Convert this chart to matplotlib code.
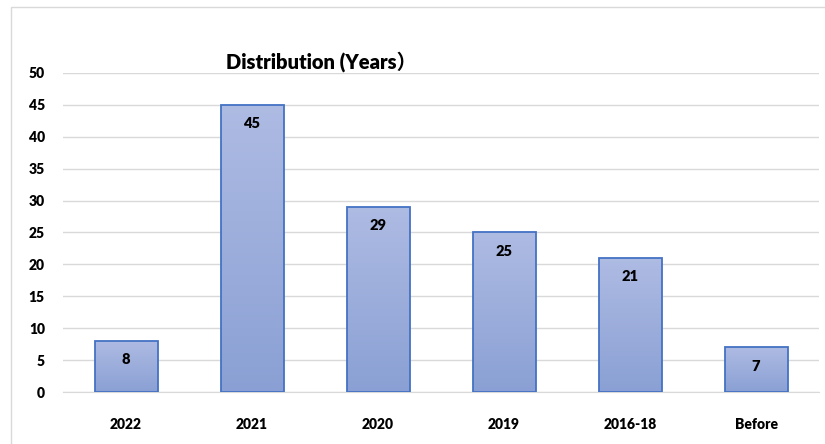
import numpy as np
import matplotlib.pyplot as plt
from matplotlib.colors import LinearSegmentedColormap
from matplotlib.patches import Rectangle

categories = ["2022", "2021", "2020", "2019", "2016-18", "Before"]
counts = [8, 45, 29, 25, 21, 7]
yticks = [0, 5, 10, 15, 20, 25, 30, 35, 40, 45, 50]

plt.rcParams['font.family'] = ['Lato', 'Noto Sans CJK SC', 'DejaVu Sans']
W = 'heavy'

fig = plt.figure(figsize=(8.25, 4.44), dpi=100)
# light frame around the chart area
fig.patches.append(Rectangle((11/825, -0.01), 1.0, 1 - 7/444 + 0.01, transform=fig.transFigure,
                             fill=False, edgecolor='#d9d9d9', linewidth=1.0))
ax = fig.add_axes([63/825, 1 - 392/444, (819 - 63)/825, (392 - 73)/444])

x = np.arange(len(categories))
bars = ax.bar(x, counts, width=0.5, facecolor='none', edgecolor='#4472c4', linewidth=1.3, zorder=3)

# vertical gradient fill, lighter at the top
cmap = LinearSegmentedColormap.from_list('grad', ['#8aa0d4', '#aebbe3'])
grad = np.linspace(0, 1, 256).reshape(-1, 1)
for b in bars:
    bx, by = b.get_x(), b.get_y()
    w, h = b.get_width(), b.get_height()
    im = ax.imshow(grad, cmap=cmap, origin='lower', aspect='auto',
                   extent=(bx, bx + w, by, by + h), zorder=2)
    im.set_clip_path(b)

for xi, v in zip(x, counts):
    ax.annotate(str(v), (xi, v), xytext=(0, -13.5), textcoords='offset points',
                ha='center', va='center', fontsize=10.5, fontweight=W, color='black', zorder=4)

ax.set_xlim(-0.5, len(categories) - 0.5)
ax.set_ylim(0, 50)
ax.set_yticks(yticks)
ax.set_xticks(x)
ax.set_xticklabels(categories)
ax.yaxis.grid(True, color='#d9d9d9', linewidth=1.0, zorder=0)
ax.set_axisbelow(True)
for s in ['top', 'right', 'left']:
    ax.spines[s].set_visible(False)
ax.spines['bottom'].set_color('#d9d9d9')
ax.tick_params(axis='both', length=0, labelsize=10)
ax.tick_params(axis='y', pad=13)
ax.tick_params(axis='x', pad=19)
for lbl in ax.get_xticklabels() + ax.get_yticklabels():
    lbl.set_fontweight(W)

ax.text(1.55, 50.2, "Distribution (Years）", ha='center', va='bottom',
        fontsize=14.5, fontweight=W, color='black')

fig.savefig("out.png", dpi=100)
